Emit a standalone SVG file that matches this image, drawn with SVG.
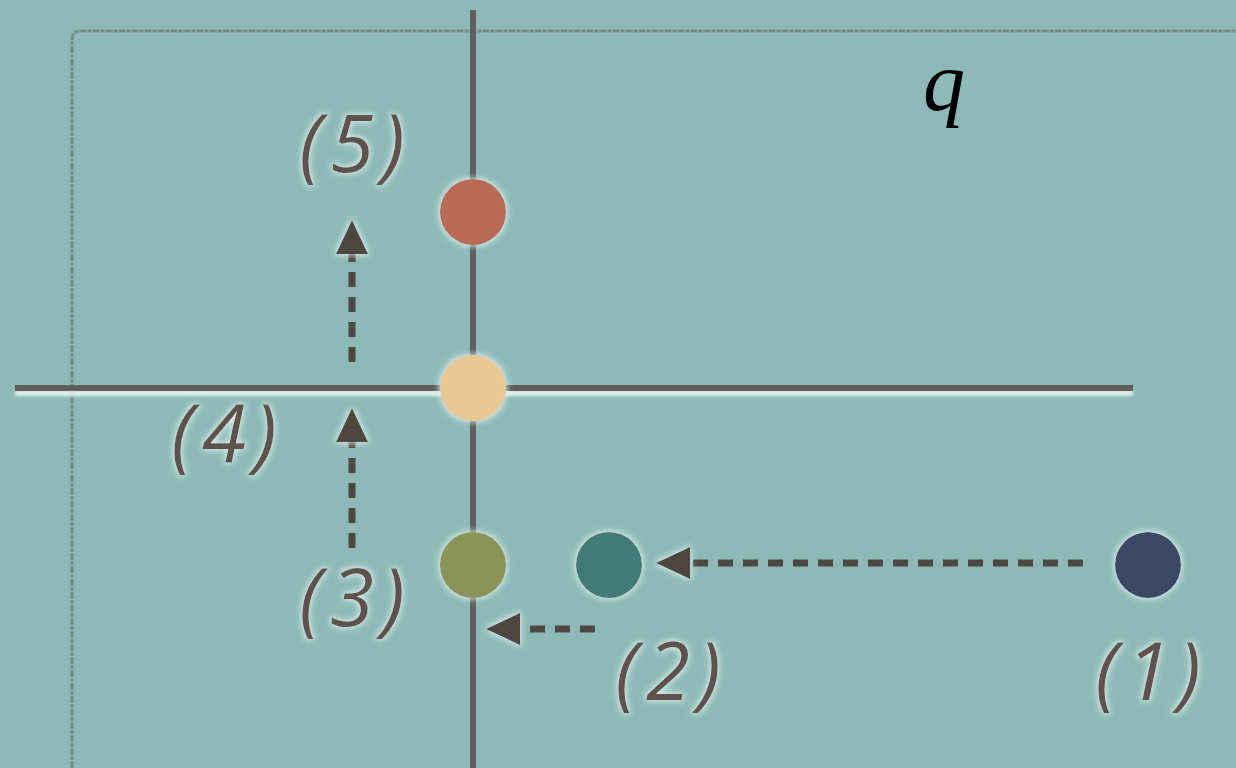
<svg xmlns="http://www.w3.org/2000/svg" width="1236" height="768" viewBox="0 0 1236 768">
<defs>
<style>
.lbl{font-family:"Open Sans","DejaVu Sans",sans-serif;font-style:italic;font-size:80px;fill:#5e514c;text-anchor:middle;letter-spacing:8px;filter:url(#glow)}
.ax{stroke:#5f5f5c;stroke-width:6;fill:none}
.dash{stroke:#4e4743;stroke-width:7;stroke-dasharray:15 10;fill:none}
.node{filter:url(#glow)}
</style>
<filter id="glow" x="-30%" y="-30%" width="160%" height="160%">
<feMorphology in="SourceAlpha" operator="dilate" radius="1" result="d"/>
<feGaussianBlur in="d" stdDeviation="3" result="b"/>
<feFlood flood-color="#e6f4f2" flood-opacity="0.9"/>
<feComposite in2="b" operator="in" result="g"/>
<feMerge><feMergeNode in="g"/><feMergeNode in="SourceGraphic"/></feMerge>
</filter>
<filter id="lglow" filterUnits="userSpaceOnUse" x="0" y="370" width="1236" height="40">
<feOffset in="SourceAlpha" dx="0" dy="5" result="o"/>
<feGaussianBlur in="o" stdDeviation="1.5" result="b"/>
<feFlood flood-color="#e6f4f2" flood-opacity="0.9"/>
<feComposite in2="b" operator="in" result="g"/>
<feMerge><feMergeNode in="g"/><feMergeNode in="SourceGraphic"/></feMerge>
</filter>
</defs>
<rect width="1236" height="768" fill="#8dbab8"/>
<path d="M72,768 L72,40 Q72,31 81,31 L1236,31" fill="none" stroke="#7a8a88" stroke-width="3" stroke-dasharray="7 1 4 1"/>
<g id="axes">
<line class="ax" x1="473" y1="10" x2="473" y2="768"/>
<line class="ax" x1="15" y1="388" x2="1133" y2="388" filter="url(#lglow)"/>
</g>
<g id="connectors">
<line class="dash" x1="1083" y1="563" x2="690" y2="563"/>
<path d="M690,547 L656,563 L690,579 z" fill="#4e4743" filter="url(#glow)"/>
<line class="dash" x1="595" y1="629" x2="518" y2="629" stroke-dasharray="15 12"/>
<path d="M520,613 L486,629 L520,645 z" fill="#4e4743" filter="url(#glow)"/>
<line class="dash" x1="352" y1="548" x2="352" y2="440"/>
<path d="M336,442 L352,408 L368,442 z" fill="#4e4743" filter="url(#glow)"/>
<line class="dash" x1="352" y1="362" x2="352" y2="252"/>
<path d="M336,254 L352,220 L368,254 z" fill="#4e4743" filter="url(#glow)"/>
</g>
<g id="n5" class="node"><circle cx="473" cy="212" r="33" fill="#b86a55"/></g>
<g id="n4" class="node"><circle cx="473" cy="388" r="33" fill="#e8c893"/></g>
<g id="n3" class="node"><circle cx="473" cy="565" r="33" fill="#8a9358"/></g>
<g id="n2" class="node"><circle cx="609" cy="565" r="33" fill="#427a77"/></g>
<g id="n1" class="node"><circle cx="1148" cy="565" r="33" fill="#3b4a65"/></g>
<g id="labels">
<text class="lbl" x="356" y="172">(5)</text>
<text class="lbl" x="228" y="462">(4)</text>
<text class="lbl" x="356" y="626">(3)</text>
<text class="lbl" x="672" y="700">(2)</text>
<text class="lbl" x="1152" y="700">(1)</text>
<text x="944" y="110" font-family="Liberation Serif,serif" font-style="italic" font-size="84" fill="#000" text-anchor="middle">q</text>
</g>
</svg>
